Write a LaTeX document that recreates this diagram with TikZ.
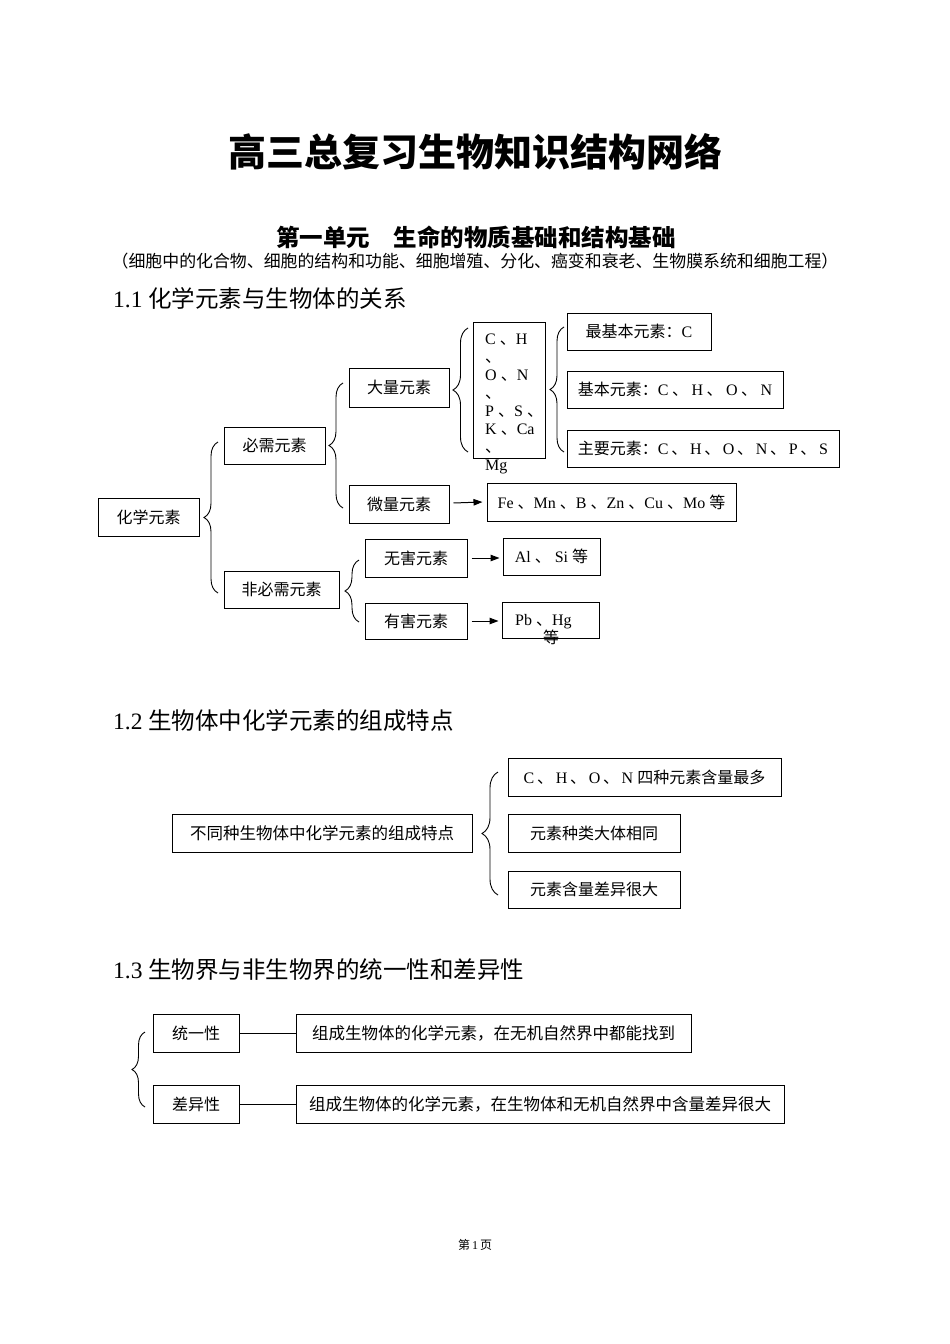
\documentclass[tikz,border=0pt]{standalone}
\usepackage{fontspec}
\setmainfont{Noto Sans CJK SC}
\newfontfamily\tm{Liberation Serif}
\usetikzlibrary{decorations.pathreplacing,arrows.meta,calc}
\newcommand\tmr[1]{{\tm #1}}
\newcommand\dn{\hspace{3.5pt}、\hspace{3.5pt}}
\newcommand\dm{\hspace{2.7pt}、\hspace{2.7pt}}
\begin{document}
\begin{tikzpicture}[x=1pt,y=-1pt,
  box/.style={draw, line width=1pt, inner sep=0pt, font=\fontsize{16}{18}\selectfont},
  wbox/.style={box, font=\fontsize{16.5}{18}\selectfont},
  txt/.style={inner sep=0pt, font=\fontsize{16}{18}\selectfont},
  brc/.style={decorate, decoration={brace, amplitude=#1}, line width=0.9pt},
  arr/.style={line width=1pt, -{Triangle[length=9pt,width=6.5pt]}},
  lnk/.style={line width=1pt},
  head/.style={inner sep=0pt, anchor=west, font=\fontsize{23.5}{26}\selectfont}]
\fill[white] (0,0) rectangle (950,1344);
\useasboundingbox (0,0) rectangle (950,1344);

% titles
\node[inner sep=0pt, font=\fontsize{38}{40}\selectfont\bfseries] (title) at (475,152) {高三总复习生物知识结构网络};
\node[inner sep=0pt, font=\fontsize{23.5}{26}\selectfont\bfseries] (unit) at (476,237) {第一单元　生命的物质基础和结构基础};
\node[inner sep=0pt, font=\fontsize{16.9}{18}\selectfont] (sub) at (475,261) {（细胞中的化合物、细胞的结构和功能、细胞增殖、分化、癌变和衰老、生物膜系统和细胞工程）};

% 1.1
\node[head] (h1) at (113,298) {\tmr{1.1 }化学元素与生物体的关系};
\node[box, minimum width=101, minimum height=38] (hx) at (148.5,517) {化学元素};
\node[box, minimum width=101, minimum height=37] (bx) at (274.5,445.5) {必需元素};
\node[box, minimum width=115, minimum height=37] (fb) at (281.5,589.5) {非必需元素};
\node[box, minimum width=100, minimum height=39] (dl) at (399,387.5) {大量元素};
\node[box, minimum width=100, minimum height=38] (wl) at (399,504) {微量元素};
\node[box, minimum width=72, minimum height=136] (chon) at (509,390) {};
\node[txt, anchor=base west] (c1) at (485,344) {\tmr{C }、\tmr{H}};
\node[txt, anchor=base west] (c2) at (485,362) {、};
\node[txt, anchor=base west] (c3) at (485,380) {\tmr{O }、\tmr{N}};
\node[txt, anchor=base west] (c4) at (485,398) {、};
\node[txt, anchor=base west] (c5) at (485,416) {\tmr{P }、\tmr{S }、};
\node[txt, anchor=base west] (c6) at (485,434) {\tmr{K }、\tmr{Ca}};
\node[txt, anchor=base west] (c7) at (485,452) {、};
\node[txt, anchor=base west] (c8) at (485,470) {\tmr{Mg}};
\node[box, minimum width=144, minimum height=37] (zj) at (639,331.5) {最基本元素：\tmr{C}};
\node[box, minimum width=216, minimum height=37] (jb) at (675,389.5) {基本元素：\tmr{C}\dn\tmr{H}\dn\tmr{O}\dn\tmr{N}};
\node[box, minimum width=272, minimum height=37] (zy) at (703,448.5) {主要元素：\tmr{C}\dm\tmr{H}\dm\tmr{O}\dm\tmr{N}\dm\tmr{P}\dm\tmr{S}};
\node[box, minimum width=249, minimum height=38] (fe) at (611.5,502) {\tmr{Fe }、\tmr{Mn }、\tmr{B }、\tmr{Zn }、\tmr{Cu }、\tmr{Mo }等};
\node[box, minimum width=102, minimum height=38] (wh) at (416,558) {无害元素};
\node[box, minimum width=102, minimum height=36] (yh) at (416,621) {有害元素};
\node[box, minimum width=97, minimum height=37] (al) at (551.5,556.5) {\tmr{Al }、\tmr{ Si }等};
\node[box, minimum width=97, minimum height=36] (pb) at (550.5,620) {};
\node[txt, anchor=base west] (pbt) at (515,625) {\tmr{Pb }、\tmr{Hg}};
\node[txt, anchor=base] (pbd) at (551,643) {等};

\draw[brc=14pt] (218,593) -- (218,442);
\draw[brc=14pt] (343,508) -- (343,383);
\draw[brc=15pt] (468,452) -- (468,328);
\draw[brc=14pt] (564,452) -- (564,327);
\draw[brc=14pt] (359,622) -- (359,560);

\draw[arr] ($(wl.east)+(4,-1)$) -- ($(fe.west)+(-4,0)$);
\draw[arr] ($(wh.east)+(4,0)$) -- ($(al.west|-wh.east)+(-3,0)$);
\draw[arr] ($(yh.east)+(4,0)$) -- ($(pb.west|-yh.east)+(-3,0)$);

% 1.2
\node[head] (h2) at (113,721) {\tmr{1.2 }生物体中化学元素的组成特点};
\node[wbox, minimum width=300, minimum height=38] (td) at (322,833) {不同种生物体中化学元素的组成特点};
\node[box, minimum width=273, minimum height=38] (t1) at (644.5,777) {\tmr{C}\dm\tmr{H}\dm\tmr{O}\dm\tmr{N }四种元素含量最多};
\node[box, minimum width=172, minimum height=38] (t2) at (594,833) {元素种类大体相同};
\node[box, minimum width=172, minimum height=37] (t3) at (594,889.5) {元素含量差异很大};
\draw[brc=16pt] (498,895) -- (498,772);

% 1.3
\node[head] (h3) at (113,970) {\tmr{1.3 }生物界与非生物界的统一性和差异性};
\node[box, minimum width=86, minimum height=38] (ty) at (196,1033) {统一性};
\node[box, minimum width=86, minimum height=38] (cy) at (196,1104) {差异性};
\node[wbox, minimum width=395, minimum height=38] (z1) at (493.5,1033) {组成生物体的化学元素，在无机自然界中都能找到};
\node[wbox, minimum width=488, minimum height=38] (z2) at (540,1104) {组成生物体的化学元素，在生物体和无机自然界中含量差异很大};
\draw[lnk] (ty) -- (z1);
\draw[lnk] (cy) -- (z2);
\draw[brc=13pt] (145,1107) -- (145,1032);

% footer
\node[inner sep=0pt, font=\fontsize{12}{14}\selectfont] (foot) at (475,1245) {第\,\tmr{1}\,页};
\end{tikzpicture}
\end{document}
